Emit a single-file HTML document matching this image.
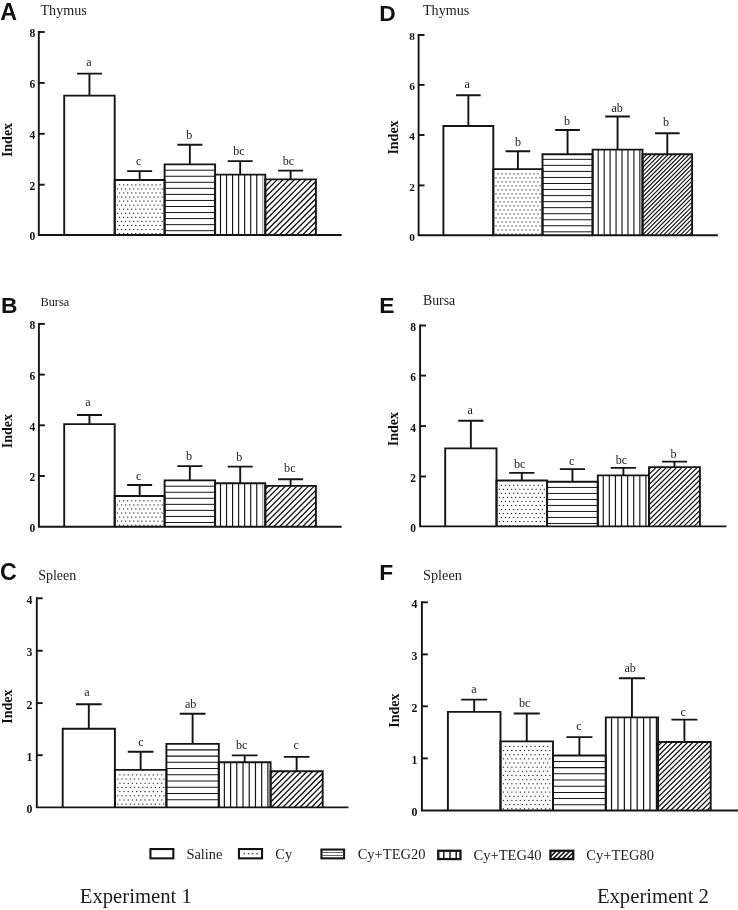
<!DOCTYPE html>
<html><head><meta charset="utf-8"><title>Figure</title>
<style>html,body{margin:0;padding:0;background:#fff}body{width:738px;height:910px;overflow:hidden;font-family:"Liberation Serif",serif}svg{display:block;font-family:"Liberation Serif",serif;filter:grayscale(1)}</style></head>
<body>
<svg width="738" height="910" viewBox="0 0 738 910">
<rect width="738" height="910" fill="#fff"/>
<defs><clipPath id="c0_4"><rect x="265.3" y="179.4" width="50.6" height="55.6"/></clipPath><clipPath id="c1_4"><rect x="265.3" y="485.9" width="50.6" height="40.8"/></clipPath><clipPath id="c2_4"><rect x="270.6" y="771.3" width="52.1" height="36.1"/></clipPath><clipPath id="c3_4"><rect x="642.5" y="154.3" width="49.6" height="81"/></clipPath><clipPath id="c4_4"><rect x="649" y="467.1" width="50.9" height="59.3"/></clipPath><clipPath id="c5_4"><rect x="658.1" y="742" width="52.6" height="68.5"/></clipPath></defs>
<g><text x="0.2" y="20.2" font-family="Liberation Sans, sans-serif" font-weight="700" font-size="23.2" fill="#111">A</text><text x="40.5" y="14.6" font-size="14.1" fill="#1c1c1c">Thymus</text><text transform="translate(12 140) rotate(-90)" text-anchor="middle" font-weight="700" font-size="14" fill="#111">Index</text><rect x="64.2" y="95.6" width="50.5" height="139.4" fill="#fff"/><rect x="114.7" y="180" width="49.9" height="55" fill="#fff"/><g fill="#262626"><rect x="118.92" y="184.3" width="1.25" height="1.1"/><rect x="122.98" y="184.3" width="1.25" height="1.1"/><rect x="127.05" y="184.3" width="1.25" height="1.1"/><rect x="131.1" y="184.3" width="1.25" height="1.1"/><rect x="135.16" y="184.3" width="1.25" height="1.1"/><rect x="139.22" y="184.3" width="1.25" height="1.1"/><rect x="143.28" y="184.3" width="1.25" height="1.1"/><rect x="147.34" y="184.3" width="1.25" height="1.1"/><rect x="151.41" y="184.3" width="1.25" height="1.1"/><rect x="155.47" y="184.3" width="1.25" height="1.1"/><rect x="159.53" y="184.3" width="1.25" height="1.1"/><rect x="116.88" y="188.36" width="1.25" height="1.1"/><rect x="120.94" y="188.36" width="1.25" height="1.1"/><rect x="125" y="188.36" width="1.25" height="1.1"/><rect x="129.06" y="188.36" width="1.25" height="1.1"/><rect x="133.12" y="188.36" width="1.25" height="1.1"/><rect x="137.18" y="188.36" width="1.25" height="1.1"/><rect x="141.24" y="188.36" width="1.25" height="1.1"/><rect x="145.3" y="188.36" width="1.25" height="1.1"/><rect x="149.36" y="188.36" width="1.25" height="1.1"/><rect x="153.42" y="188.36" width="1.25" height="1.1"/><rect x="157.48" y="188.36" width="1.25" height="1.1"/><rect x="161.54" y="188.36" width="1.25" height="1.1"/><rect x="118.92" y="192.42" width="1.25" height="1.1"/><rect x="122.98" y="192.42" width="1.25" height="1.1"/><rect x="127.05" y="192.42" width="1.25" height="1.1"/><rect x="131.1" y="192.42" width="1.25" height="1.1"/><rect x="135.16" y="192.42" width="1.25" height="1.1"/><rect x="139.22" y="192.42" width="1.25" height="1.1"/><rect x="143.28" y="192.42" width="1.25" height="1.1"/><rect x="147.34" y="192.42" width="1.25" height="1.1"/><rect x="151.41" y="192.42" width="1.25" height="1.1"/><rect x="155.47" y="192.42" width="1.25" height="1.1"/><rect x="159.53" y="192.42" width="1.25" height="1.1"/><rect x="116.88" y="196.48" width="1.25" height="1.1"/><rect x="120.94" y="196.48" width="1.25" height="1.1"/><rect x="125" y="196.48" width="1.25" height="1.1"/><rect x="129.06" y="196.48" width="1.25" height="1.1"/><rect x="133.12" y="196.48" width="1.25" height="1.1"/><rect x="137.18" y="196.48" width="1.25" height="1.1"/><rect x="141.24" y="196.48" width="1.25" height="1.1"/><rect x="145.3" y="196.48" width="1.25" height="1.1"/><rect x="149.36" y="196.48" width="1.25" height="1.1"/><rect x="153.42" y="196.48" width="1.25" height="1.1"/><rect x="157.48" y="196.48" width="1.25" height="1.1"/><rect x="161.54" y="196.48" width="1.25" height="1.1"/><rect x="118.92" y="200.54" width="1.25" height="1.1"/><rect x="122.98" y="200.54" width="1.25" height="1.1"/><rect x="127.05" y="200.54" width="1.25" height="1.1"/><rect x="131.1" y="200.54" width="1.25" height="1.1"/><rect x="135.16" y="200.54" width="1.25" height="1.1"/><rect x="139.22" y="200.54" width="1.25" height="1.1"/><rect x="143.28" y="200.54" width="1.25" height="1.1"/><rect x="147.34" y="200.54" width="1.25" height="1.1"/><rect x="151.41" y="200.54" width="1.25" height="1.1"/><rect x="155.47" y="200.54" width="1.25" height="1.1"/><rect x="159.53" y="200.54" width="1.25" height="1.1"/><rect x="116.88" y="204.6" width="1.25" height="1.1"/><rect x="120.94" y="204.6" width="1.25" height="1.1"/><rect x="125" y="204.6" width="1.25" height="1.1"/><rect x="129.06" y="204.6" width="1.25" height="1.1"/><rect x="133.12" y="204.6" width="1.25" height="1.1"/><rect x="137.18" y="204.6" width="1.25" height="1.1"/><rect x="141.24" y="204.6" width="1.25" height="1.1"/><rect x="145.3" y="204.6" width="1.25" height="1.1"/><rect x="149.36" y="204.6" width="1.25" height="1.1"/><rect x="153.42" y="204.6" width="1.25" height="1.1"/><rect x="157.48" y="204.6" width="1.25" height="1.1"/><rect x="161.54" y="204.6" width="1.25" height="1.1"/><rect x="118.92" y="208.66" width="1.25" height="1.1"/><rect x="122.98" y="208.66" width="1.25" height="1.1"/><rect x="127.05" y="208.66" width="1.25" height="1.1"/><rect x="131.1" y="208.66" width="1.25" height="1.1"/><rect x="135.16" y="208.66" width="1.25" height="1.1"/><rect x="139.22" y="208.66" width="1.25" height="1.1"/><rect x="143.28" y="208.66" width="1.25" height="1.1"/><rect x="147.34" y="208.66" width="1.25" height="1.1"/><rect x="151.41" y="208.66" width="1.25" height="1.1"/><rect x="155.47" y="208.66" width="1.25" height="1.1"/><rect x="159.53" y="208.66" width="1.25" height="1.1"/><rect x="116.88" y="212.72" width="1.25" height="1.1"/><rect x="120.94" y="212.72" width="1.25" height="1.1"/><rect x="125" y="212.72" width="1.25" height="1.1"/><rect x="129.06" y="212.72" width="1.25" height="1.1"/><rect x="133.12" y="212.72" width="1.25" height="1.1"/><rect x="137.18" y="212.72" width="1.25" height="1.1"/><rect x="141.24" y="212.72" width="1.25" height="1.1"/><rect x="145.3" y="212.72" width="1.25" height="1.1"/><rect x="149.36" y="212.72" width="1.25" height="1.1"/><rect x="153.42" y="212.72" width="1.25" height="1.1"/><rect x="157.48" y="212.72" width="1.25" height="1.1"/><rect x="161.54" y="212.72" width="1.25" height="1.1"/><rect x="118.92" y="216.78" width="1.25" height="1.1"/><rect x="122.98" y="216.78" width="1.25" height="1.1"/><rect x="127.05" y="216.78" width="1.25" height="1.1"/><rect x="131.1" y="216.78" width="1.25" height="1.1"/><rect x="135.16" y="216.78" width="1.25" height="1.1"/><rect x="139.22" y="216.78" width="1.25" height="1.1"/><rect x="143.28" y="216.78" width="1.25" height="1.1"/><rect x="147.34" y="216.78" width="1.25" height="1.1"/><rect x="151.41" y="216.78" width="1.25" height="1.1"/><rect x="155.47" y="216.78" width="1.25" height="1.1"/><rect x="159.53" y="216.78" width="1.25" height="1.1"/><rect x="116.88" y="220.84" width="1.25" height="1.1"/><rect x="120.94" y="220.84" width="1.25" height="1.1"/><rect x="125" y="220.84" width="1.25" height="1.1"/><rect x="129.06" y="220.84" width="1.25" height="1.1"/><rect x="133.12" y="220.84" width="1.25" height="1.1"/><rect x="137.18" y="220.84" width="1.25" height="1.1"/><rect x="141.24" y="220.84" width="1.25" height="1.1"/><rect x="145.3" y="220.84" width="1.25" height="1.1"/><rect x="149.36" y="220.84" width="1.25" height="1.1"/><rect x="153.42" y="220.84" width="1.25" height="1.1"/><rect x="157.48" y="220.84" width="1.25" height="1.1"/><rect x="161.54" y="220.84" width="1.25" height="1.1"/><rect x="118.92" y="224.9" width="1.25" height="1.1"/><rect x="122.98" y="224.9" width="1.25" height="1.1"/><rect x="127.05" y="224.9" width="1.25" height="1.1"/><rect x="131.1" y="224.9" width="1.25" height="1.1"/><rect x="135.16" y="224.9" width="1.25" height="1.1"/><rect x="139.22" y="224.9" width="1.25" height="1.1"/><rect x="143.28" y="224.9" width="1.25" height="1.1"/><rect x="147.34" y="224.9" width="1.25" height="1.1"/><rect x="151.41" y="224.9" width="1.25" height="1.1"/><rect x="155.47" y="224.9" width="1.25" height="1.1"/><rect x="159.53" y="224.9" width="1.25" height="1.1"/><rect x="116.88" y="228.96" width="1.25" height="1.1"/><rect x="120.94" y="228.96" width="1.25" height="1.1"/><rect x="125" y="228.96" width="1.25" height="1.1"/><rect x="129.06" y="228.96" width="1.25" height="1.1"/><rect x="133.12" y="228.96" width="1.25" height="1.1"/><rect x="137.18" y="228.96" width="1.25" height="1.1"/><rect x="141.24" y="228.96" width="1.25" height="1.1"/><rect x="145.3" y="228.96" width="1.25" height="1.1"/><rect x="149.36" y="228.96" width="1.25" height="1.1"/><rect x="153.42" y="228.96" width="1.25" height="1.1"/><rect x="157.48" y="228.96" width="1.25" height="1.1"/><rect x="161.54" y="228.96" width="1.25" height="1.1"/><rect x="118.92" y="233.02" width="1.25" height="1.1"/><rect x="122.98" y="233.02" width="1.25" height="1.1"/><rect x="127.05" y="233.02" width="1.25" height="1.1"/><rect x="131.1" y="233.02" width="1.25" height="1.1"/><rect x="135.16" y="233.02" width="1.25" height="1.1"/><rect x="139.22" y="233.02" width="1.25" height="1.1"/><rect x="143.28" y="233.02" width="1.25" height="1.1"/><rect x="147.34" y="233.02" width="1.25" height="1.1"/><rect x="151.41" y="233.02" width="1.25" height="1.1"/><rect x="155.47" y="233.02" width="1.25" height="1.1"/><rect x="159.53" y="233.02" width="1.25" height="1.1"/></g><rect x="164.6" y="164.4" width="50.5" height="70.6" fill="#fff"/><path d="M164.6 170.2H215.1M164.6 176.25H215.1M164.6 182.3H215.1M164.6 188.35H215.1M164.6 194.4H215.1M164.6 200.45H215.1M164.6 206.5H215.1M164.6 212.55H215.1M164.6 218.6H215.1M164.6 224.65H215.1M164.6 230.7H215.1" stroke="#141414" stroke-width="1" fill="none"/><rect x="215.1" y="174.6" width="50.2" height="60.4" fill="#fff"/><path d="M220.5 174.6V235M226.54 174.6V235M232.58 174.6V235M238.62 174.6V235M244.66 174.6V235M250.7 174.6V235M256.74 174.6V235" stroke="#141414" stroke-width="1.15" fill="none"/><path d="M262.78 174.6V235" stroke="#777" stroke-width="0.85" fill="none"/><rect x="265.3" y="179.4" width="50.6" height="55.6" fill="#fff"/><g clip-path="url(#c0_4)"><path d="M204.7 235L260.3 179.4M210.45 235L266.05 179.4M216.2 235L271.8 179.4M221.95 235L277.55 179.4M227.7 235L283.3 179.4M233.45 235L289.05 179.4M239.2 235L294.8 179.4M244.95 235L300.55 179.4M250.7 235L306.3 179.4M256.45 235L312.05 179.4M262.2 235L317.8 179.4M267.95 235L323.55 179.4M273.7 235L329.3 179.4M279.45 235L335.05 179.4M285.2 235L340.8 179.4M290.95 235L346.55 179.4M296.7 235L352.3 179.4M302.45 235L358.05 179.4M308.2 235L363.8 179.4M313.95 235L369.55 179.4" stroke="#141414" stroke-width="1.32" fill="none"/></g><path d="M64.2 235V95.6H114.7V235" fill="none" stroke="#141414" stroke-width="1.9" stroke-linejoin="miter"/><path d="M114.7 235V180H164.6V235" fill="none" stroke="#141414" stroke-width="1.9" stroke-linejoin="miter"/><path d="M164.6 235V164.4H215.1V235" fill="none" stroke="#141414" stroke-width="1.9" stroke-linejoin="miter"/><path d="M215.1 235V174.6H265.3V235" fill="none" stroke="#141414" stroke-width="1.9" stroke-linejoin="miter"/><path d="M265.3 235V179.4H315.9V235" fill="none" stroke="#141414" stroke-width="1.9" stroke-linejoin="miter"/><path d="M89.45 95.6V73.6M76.95 73.6H101.95" fill="none" stroke="#141414" stroke-width="1.9"/><path d="M139.65 180V171.1M127.15 171.1H152.15" fill="none" stroke="#141414" stroke-width="1.9"/><path d="M189.85 164.4V144.8M177.35 144.8H202.35" fill="none" stroke="#141414" stroke-width="1.9"/><path d="M240.2 174.6V161.1M227.7 161.1H252.7" fill="none" stroke="#141414" stroke-width="1.9"/><path d="M290.6 179.4V170.6M278.1 170.6H303.1" fill="none" stroke="#141414" stroke-width="1.9"/><text x="89" y="65.9" text-anchor="middle" font-size="12.1" fill="#1c1c1c">a</text><text x="138.8" y="164.9" text-anchor="middle" font-size="12.1" fill="#1c1c1c">c</text><text x="189.3" y="139.3" text-anchor="middle" font-size="12.1" fill="#1c1c1c">b</text><text x="239" y="155.3" text-anchor="middle" font-size="12.1" fill="#1c1c1c">bc</text><text x="288.5" y="165.4" text-anchor="middle" font-size="12.1" fill="#1c1c1c">bc</text><path d="M38.8 31.05V235H341.7" fill="none" stroke="#141414" stroke-width="1.9" stroke-linecap="butt" stroke-linejoin="miter"/><path d="M38.8 32H44.7" stroke="#141414" stroke-width="1.9"/><text x="35.2" y="37.4" text-anchor="end" font-weight="700" font-size="11.5" fill="#111">8</text><path d="M38.8 82.9H44.7" stroke="#141414" stroke-width="1.9"/><text x="35.2" y="88.3" text-anchor="end" font-weight="700" font-size="11.5" fill="#111">6</text><path d="M38.8 133.8H44.7" stroke="#141414" stroke-width="1.9"/><text x="35.2" y="139.2" text-anchor="end" font-weight="700" font-size="11.5" fill="#111">4</text><path d="M38.8 184.7H44.7" stroke="#141414" stroke-width="1.9"/><text x="35.2" y="190.1" text-anchor="end" font-weight="700" font-size="11.5" fill="#111">2</text><text x="35.2" y="240.4" text-anchor="end" font-weight="700" font-size="11.5" fill="#111">0</text></g>
<g><text x="0.9" y="312.5" font-family="Liberation Sans, sans-serif" font-weight="700" font-size="22.8" fill="#111">B</text><text x="40.4" y="305.8" font-size="13.4" fill="#1c1c1c" textLength="28.9" lengthAdjust="spacingAndGlyphs">Bursa</text><text transform="translate(11.8 431.2) rotate(-90)" text-anchor="middle" font-weight="700" font-size="14" fill="#111">Index</text><rect x="64.2" y="424.1" width="50.5" height="102.6" fill="#fff"/><rect x="114.7" y="496" width="49.9" height="30.7" fill="#fff"/><g fill="#262626"><rect x="118.92" y="500.3" width="1.25" height="1.1"/><rect x="122.98" y="500.3" width="1.25" height="1.1"/><rect x="127.05" y="500.3" width="1.25" height="1.1"/><rect x="131.1" y="500.3" width="1.25" height="1.1"/><rect x="135.16" y="500.3" width="1.25" height="1.1"/><rect x="139.22" y="500.3" width="1.25" height="1.1"/><rect x="143.28" y="500.3" width="1.25" height="1.1"/><rect x="147.34" y="500.3" width="1.25" height="1.1"/><rect x="151.41" y="500.3" width="1.25" height="1.1"/><rect x="155.47" y="500.3" width="1.25" height="1.1"/><rect x="159.53" y="500.3" width="1.25" height="1.1"/><rect x="116.88" y="504.36" width="1.25" height="1.1"/><rect x="120.94" y="504.36" width="1.25" height="1.1"/><rect x="125" y="504.36" width="1.25" height="1.1"/><rect x="129.06" y="504.36" width="1.25" height="1.1"/><rect x="133.12" y="504.36" width="1.25" height="1.1"/><rect x="137.18" y="504.36" width="1.25" height="1.1"/><rect x="141.24" y="504.36" width="1.25" height="1.1"/><rect x="145.3" y="504.36" width="1.25" height="1.1"/><rect x="149.36" y="504.36" width="1.25" height="1.1"/><rect x="153.42" y="504.36" width="1.25" height="1.1"/><rect x="157.48" y="504.36" width="1.25" height="1.1"/><rect x="161.54" y="504.36" width="1.25" height="1.1"/><rect x="118.92" y="508.42" width="1.25" height="1.1"/><rect x="122.98" y="508.42" width="1.25" height="1.1"/><rect x="127.05" y="508.42" width="1.25" height="1.1"/><rect x="131.1" y="508.42" width="1.25" height="1.1"/><rect x="135.16" y="508.42" width="1.25" height="1.1"/><rect x="139.22" y="508.42" width="1.25" height="1.1"/><rect x="143.28" y="508.42" width="1.25" height="1.1"/><rect x="147.34" y="508.42" width="1.25" height="1.1"/><rect x="151.41" y="508.42" width="1.25" height="1.1"/><rect x="155.47" y="508.42" width="1.25" height="1.1"/><rect x="159.53" y="508.42" width="1.25" height="1.1"/><rect x="116.88" y="512.48" width="1.25" height="1.1"/><rect x="120.94" y="512.48" width="1.25" height="1.1"/><rect x="125" y="512.48" width="1.25" height="1.1"/><rect x="129.06" y="512.48" width="1.25" height="1.1"/><rect x="133.12" y="512.48" width="1.25" height="1.1"/><rect x="137.18" y="512.48" width="1.25" height="1.1"/><rect x="141.24" y="512.48" width="1.25" height="1.1"/><rect x="145.3" y="512.48" width="1.25" height="1.1"/><rect x="149.36" y="512.48" width="1.25" height="1.1"/><rect x="153.42" y="512.48" width="1.25" height="1.1"/><rect x="157.48" y="512.48" width="1.25" height="1.1"/><rect x="161.54" y="512.48" width="1.25" height="1.1"/><rect x="118.92" y="516.54" width="1.25" height="1.1"/><rect x="122.98" y="516.54" width="1.25" height="1.1"/><rect x="127.05" y="516.54" width="1.25" height="1.1"/><rect x="131.1" y="516.54" width="1.25" height="1.1"/><rect x="135.16" y="516.54" width="1.25" height="1.1"/><rect x="139.22" y="516.54" width="1.25" height="1.1"/><rect x="143.28" y="516.54" width="1.25" height="1.1"/><rect x="147.34" y="516.54" width="1.25" height="1.1"/><rect x="151.41" y="516.54" width="1.25" height="1.1"/><rect x="155.47" y="516.54" width="1.25" height="1.1"/><rect x="159.53" y="516.54" width="1.25" height="1.1"/><rect x="116.88" y="520.6" width="1.25" height="1.1"/><rect x="120.94" y="520.6" width="1.25" height="1.1"/><rect x="125" y="520.6" width="1.25" height="1.1"/><rect x="129.06" y="520.6" width="1.25" height="1.1"/><rect x="133.12" y="520.6" width="1.25" height="1.1"/><rect x="137.18" y="520.6" width="1.25" height="1.1"/><rect x="141.24" y="520.6" width="1.25" height="1.1"/><rect x="145.3" y="520.6" width="1.25" height="1.1"/><rect x="149.36" y="520.6" width="1.25" height="1.1"/><rect x="153.42" y="520.6" width="1.25" height="1.1"/><rect x="157.48" y="520.6" width="1.25" height="1.1"/><rect x="161.54" y="520.6" width="1.25" height="1.1"/><rect x="118.92" y="524.66" width="1.25" height="1.1"/><rect x="122.98" y="524.66" width="1.25" height="1.1"/><rect x="127.05" y="524.66" width="1.25" height="1.1"/><rect x="131.1" y="524.66" width="1.25" height="1.1"/><rect x="135.16" y="524.66" width="1.25" height="1.1"/><rect x="139.22" y="524.66" width="1.25" height="1.1"/><rect x="143.28" y="524.66" width="1.25" height="1.1"/><rect x="147.34" y="524.66" width="1.25" height="1.1"/><rect x="151.41" y="524.66" width="1.25" height="1.1"/><rect x="155.47" y="524.66" width="1.25" height="1.1"/><rect x="159.53" y="524.66" width="1.25" height="1.1"/></g><rect x="164.6" y="480.4" width="50.5" height="46.3" fill="#fff"/><path d="M164.6 486.2H215.1M164.6 492.25H215.1M164.6 498.3H215.1M164.6 504.35H215.1M164.6 510.4H215.1M164.6 516.45H215.1M164.6 522.5H215.1" stroke="#141414" stroke-width="1" fill="none"/><rect x="215.1" y="483.2" width="50.2" height="43.5" fill="#fff"/><path d="M220.5 483.2V526.7M226.54 483.2V526.7M232.58 483.2V526.7M238.62 483.2V526.7M244.66 483.2V526.7M250.7 483.2V526.7M256.74 483.2V526.7" stroke="#141414" stroke-width="1.15" fill="none"/><path d="M262.78 483.2V526.7" stroke="#777" stroke-width="0.85" fill="none"/><rect x="265.3" y="485.9" width="50.6" height="40.8" fill="#fff"/><g clip-path="url(#c1_4)"><path d="M216.2 526.7L257 485.9M221.95 526.7L262.75 485.9M227.7 526.7L268.5 485.9M233.45 526.7L274.25 485.9M239.2 526.7L280 485.9M244.95 526.7L285.75 485.9M250.7 526.7L291.5 485.9M256.45 526.7L297.25 485.9M262.2 526.7L303 485.9M267.95 526.7L308.75 485.9M273.7 526.7L314.5 485.9M279.45 526.7L320.25 485.9M285.2 526.7L326 485.9M290.95 526.7L331.75 485.9M296.7 526.7L337.5 485.9M302.45 526.7L343.25 485.9M308.2 526.7L349 485.9M313.95 526.7L354.75 485.9" stroke="#141414" stroke-width="1.32" fill="none"/></g><path d="M64.2 526.7V424.1H114.7V526.7" fill="none" stroke="#141414" stroke-width="1.9" stroke-linejoin="miter"/><path d="M114.7 526.7V496H164.6V526.7" fill="none" stroke="#141414" stroke-width="1.9" stroke-linejoin="miter"/><path d="M164.6 526.7V480.4H215.1V526.7" fill="none" stroke="#141414" stroke-width="1.9" stroke-linejoin="miter"/><path d="M215.1 526.7V483.2H265.3V526.7" fill="none" stroke="#141414" stroke-width="1.9" stroke-linejoin="miter"/><path d="M265.3 526.7V485.9H315.9V526.7" fill="none" stroke="#141414" stroke-width="1.9" stroke-linejoin="miter"/><path d="M89.45 424.1V415M76.95 415H101.95" fill="none" stroke="#141414" stroke-width="1.9"/><path d="M139.65 496V485M127.15 485H152.15" fill="none" stroke="#141414" stroke-width="1.9"/><path d="M189.85 480.4V466.1M177.35 466.1H202.35" fill="none" stroke="#141414" stroke-width="1.9"/><path d="M240.2 483.2V466.6M227.7 466.6H252.7" fill="none" stroke="#141414" stroke-width="1.9"/><path d="M290.6 485.9V479.2M278.1 479.2H303.1" fill="none" stroke="#141414" stroke-width="1.9"/><text x="88" y="406" text-anchor="middle" font-size="12.1" fill="#1c1c1c">a</text><text x="138.6" y="480" text-anchor="middle" font-size="12.1" fill="#1c1c1c">c</text><text x="189" y="459.9" text-anchor="middle" font-size="12.1" fill="#1c1c1c">b</text><text x="239.2" y="460.9" text-anchor="middle" font-size="12.1" fill="#1c1c1c">b</text><text x="289.8" y="471.7" text-anchor="middle" font-size="12.1" fill="#1c1c1c">bc</text><path d="M38.9 322.95V526.7H341.7" fill="none" stroke="#141414" stroke-width="1.9" stroke-linecap="butt" stroke-linejoin="miter"/><path d="M38.9 323.9H44.8" stroke="#141414" stroke-width="1.9"/><text x="35.3" y="329.3" text-anchor="end" font-weight="700" font-size="11.5" fill="#111">8</text><path d="M38.9 374.6H44.8" stroke="#141414" stroke-width="1.9"/><text x="35.3" y="380" text-anchor="end" font-weight="700" font-size="11.5" fill="#111">6</text><path d="M38.9 425.3H44.8" stroke="#141414" stroke-width="1.9"/><text x="35.3" y="430.7" text-anchor="end" font-weight="700" font-size="11.5" fill="#111">4</text><path d="M38.9 476H44.8" stroke="#141414" stroke-width="1.9"/><text x="35.3" y="481.4" text-anchor="end" font-weight="700" font-size="11.5" fill="#111">2</text><text x="35.3" y="532.1" text-anchor="end" font-weight="700" font-size="11.5" fill="#111">0</text></g>
<g><text x="0" y="580.3" font-family="Liberation Sans, sans-serif" font-weight="700" font-size="23.2" fill="#111">C</text><text x="38.2" y="579.5" font-size="14" fill="#1c1c1c">Spleen</text><text transform="translate(12.3 706.6) rotate(-90)" text-anchor="middle" font-weight="700" font-size="14" fill="#111">Index</text><rect x="62.7" y="728.7" width="52.2" height="78.7" fill="#fff"/><rect x="114.9" y="769.9" width="51.5" height="37.5" fill="#fff"/><g fill="#262626"><rect x="119.27" y="774.35" width="1.25" height="1.1"/><rect x="123.45" y="774.35" width="1.25" height="1.1"/><rect x="127.63" y="774.35" width="1.25" height="1.1"/><rect x="131.82" y="774.35" width="1.25" height="1.1"/><rect x="136" y="774.35" width="1.25" height="1.1"/><rect x="140.18" y="774.35" width="1.25" height="1.1"/><rect x="144.36" y="774.35" width="1.25" height="1.1"/><rect x="148.54" y="774.35" width="1.25" height="1.1"/><rect x="152.72" y="774.35" width="1.25" height="1.1"/><rect x="156.91" y="774.35" width="1.25" height="1.1"/><rect x="161.09" y="774.35" width="1.25" height="1.1"/><rect x="117.16" y="778.53" width="1.25" height="1.1"/><rect x="121.34" y="778.53" width="1.25" height="1.1"/><rect x="125.52" y="778.53" width="1.25" height="1.1"/><rect x="129.7" y="778.53" width="1.25" height="1.1"/><rect x="133.89" y="778.53" width="1.25" height="1.1"/><rect x="138.07" y="778.53" width="1.25" height="1.1"/><rect x="142.25" y="778.53" width="1.25" height="1.1"/><rect x="146.43" y="778.53" width="1.25" height="1.1"/><rect x="150.61" y="778.53" width="1.25" height="1.1"/><rect x="154.8" y="778.53" width="1.25" height="1.1"/><rect x="158.98" y="778.53" width="1.25" height="1.1"/><rect x="163.16" y="778.53" width="1.25" height="1.1"/><rect x="119.27" y="782.71" width="1.25" height="1.1"/><rect x="123.45" y="782.71" width="1.25" height="1.1"/><rect x="127.63" y="782.71" width="1.25" height="1.1"/><rect x="131.82" y="782.71" width="1.25" height="1.1"/><rect x="136" y="782.71" width="1.25" height="1.1"/><rect x="140.18" y="782.71" width="1.25" height="1.1"/><rect x="144.36" y="782.71" width="1.25" height="1.1"/><rect x="148.54" y="782.71" width="1.25" height="1.1"/><rect x="152.72" y="782.71" width="1.25" height="1.1"/><rect x="156.91" y="782.71" width="1.25" height="1.1"/><rect x="161.09" y="782.71" width="1.25" height="1.1"/><rect x="117.16" y="786.89" width="1.25" height="1.1"/><rect x="121.34" y="786.89" width="1.25" height="1.1"/><rect x="125.52" y="786.89" width="1.25" height="1.1"/><rect x="129.7" y="786.89" width="1.25" height="1.1"/><rect x="133.89" y="786.89" width="1.25" height="1.1"/><rect x="138.07" y="786.89" width="1.25" height="1.1"/><rect x="142.25" y="786.89" width="1.25" height="1.1"/><rect x="146.43" y="786.89" width="1.25" height="1.1"/><rect x="150.61" y="786.89" width="1.25" height="1.1"/><rect x="154.8" y="786.89" width="1.25" height="1.1"/><rect x="158.98" y="786.89" width="1.25" height="1.1"/><rect x="163.16" y="786.89" width="1.25" height="1.1"/><rect x="119.27" y="791.07" width="1.25" height="1.1"/><rect x="123.45" y="791.07" width="1.25" height="1.1"/><rect x="127.63" y="791.07" width="1.25" height="1.1"/><rect x="131.82" y="791.07" width="1.25" height="1.1"/><rect x="136" y="791.07" width="1.25" height="1.1"/><rect x="140.18" y="791.07" width="1.25" height="1.1"/><rect x="144.36" y="791.07" width="1.25" height="1.1"/><rect x="148.54" y="791.07" width="1.25" height="1.1"/><rect x="152.72" y="791.07" width="1.25" height="1.1"/><rect x="156.91" y="791.07" width="1.25" height="1.1"/><rect x="161.09" y="791.07" width="1.25" height="1.1"/><rect x="117.16" y="795.25" width="1.25" height="1.1"/><rect x="121.34" y="795.25" width="1.25" height="1.1"/><rect x="125.52" y="795.25" width="1.25" height="1.1"/><rect x="129.7" y="795.25" width="1.25" height="1.1"/><rect x="133.89" y="795.25" width="1.25" height="1.1"/><rect x="138.07" y="795.25" width="1.25" height="1.1"/><rect x="142.25" y="795.25" width="1.25" height="1.1"/><rect x="146.43" y="795.25" width="1.25" height="1.1"/><rect x="150.61" y="795.25" width="1.25" height="1.1"/><rect x="154.8" y="795.25" width="1.25" height="1.1"/><rect x="158.98" y="795.25" width="1.25" height="1.1"/><rect x="163.16" y="795.25" width="1.25" height="1.1"/><rect x="119.27" y="799.44" width="1.25" height="1.1"/><rect x="123.45" y="799.44" width="1.25" height="1.1"/><rect x="127.63" y="799.44" width="1.25" height="1.1"/><rect x="131.82" y="799.44" width="1.25" height="1.1"/><rect x="136" y="799.44" width="1.25" height="1.1"/><rect x="140.18" y="799.44" width="1.25" height="1.1"/><rect x="144.36" y="799.44" width="1.25" height="1.1"/><rect x="148.54" y="799.44" width="1.25" height="1.1"/><rect x="152.72" y="799.44" width="1.25" height="1.1"/><rect x="156.91" y="799.44" width="1.25" height="1.1"/><rect x="161.09" y="799.44" width="1.25" height="1.1"/><rect x="117.16" y="803.62" width="1.25" height="1.1"/><rect x="121.34" y="803.62" width="1.25" height="1.1"/><rect x="125.52" y="803.62" width="1.25" height="1.1"/><rect x="129.7" y="803.62" width="1.25" height="1.1"/><rect x="133.89" y="803.62" width="1.25" height="1.1"/><rect x="138.07" y="803.62" width="1.25" height="1.1"/><rect x="142.25" y="803.62" width="1.25" height="1.1"/><rect x="146.43" y="803.62" width="1.25" height="1.1"/><rect x="150.61" y="803.62" width="1.25" height="1.1"/><rect x="154.8" y="803.62" width="1.25" height="1.1"/><rect x="158.98" y="803.62" width="1.25" height="1.1"/><rect x="163.16" y="803.62" width="1.25" height="1.1"/></g><rect x="166.4" y="743.9" width="52.4" height="63.5" fill="#fff"/><path d="M166.4 749.87H218.8M166.4 756.11H218.8M166.4 762.34H218.8M166.4 768.57H218.8M166.4 774.8H218.8M166.4 781.03H218.8M166.4 787.26H218.8M166.4 793.49H218.8M166.4 799.73H218.8" stroke="#141414" stroke-width="1.03" fill="none"/><rect x="218.8" y="762.2" width="51.8" height="45.2" fill="#fff"/><path d="M224.36 762.2V807.4M230.58 762.2V807.4M236.8 762.2V807.4M243.03 762.2V807.4M249.25 762.2V807.4M255.47 762.2V807.4M261.69 762.2V807.4M267.91 762.2V807.4" stroke="#141414" stroke-width="1.18" fill="none"/><rect x="270.6" y="771.3" width="52.1" height="36.1" fill="#fff"/><g clip-path="url(#c2_4)"><path d="M225.3 807.4L261.4 771.3M231.03 807.4L267.13 771.3M236.75 807.4L272.85 771.3M242.48 807.4L278.58 771.3M248.21 807.4L284.31 771.3M253.93 807.4L290.03 771.3M259.66 807.4L295.76 771.3M265.39 807.4L301.49 771.3M271.12 807.4L307.22 771.3M276.84 807.4L312.94 771.3M282.57 807.4L318.67 771.3M288.3 807.4L324.4 771.3M294.02 807.4L330.12 771.3M299.75 807.4L335.85 771.3M305.48 807.4L341.58 771.3M311.2 807.4L347.3 771.3M316.93 807.4L353.03 771.3M322.66 807.4L358.76 771.3" stroke="#141414" stroke-width="1.36" fill="none"/></g><path d="M62.7 807.4V728.7H114.9V807.4" fill="none" stroke="#141414" stroke-width="1.9" stroke-linejoin="miter"/><path d="M114.9 807.4V769.9H166.4V807.4" fill="none" stroke="#141414" stroke-width="1.9" stroke-linejoin="miter"/><path d="M166.4 807.4V743.9H218.8V807.4" fill="none" stroke="#141414" stroke-width="1.9" stroke-linejoin="miter"/><path d="M218.8 807.4V762.2H270.6V807.4" fill="none" stroke="#141414" stroke-width="1.9" stroke-linejoin="miter"/><path d="M270.6 807.4V771.3H322.7V807.4" fill="none" stroke="#141414" stroke-width="1.9" stroke-linejoin="miter"/><path d="M88.8 728.7V704.3M75.93 704.3H101.68" fill="none" stroke="#141414" stroke-width="1.9"/><path d="M140.65 769.9V751.7M127.78 751.7H153.53" fill="none" stroke="#141414" stroke-width="1.9"/><path d="M192.6 743.9V713.8M179.73 713.8H205.48" fill="none" stroke="#141414" stroke-width="1.9"/><path d="M244.7 762.2V755.4M231.83 755.4H257.58" fill="none" stroke="#141414" stroke-width="1.9"/><path d="M296.65 771.3V756.9M283.77 756.9H309.52" fill="none" stroke="#141414" stroke-width="1.9"/><text x="87" y="696" text-anchor="middle" font-size="12.1" fill="#1c1c1c">a</text><text x="140.9" y="746.2" text-anchor="middle" font-size="12.1" fill="#1c1c1c">c</text><text x="190.6" y="708.3" text-anchor="middle" font-size="12.1" fill="#1c1c1c">ab</text><text x="241.7" y="749.1" text-anchor="middle" font-size="12.1" fill="#1c1c1c">bc</text><text x="296.3" y="749.1" text-anchor="middle" font-size="12.1" fill="#1c1c1c">c</text><path d="M36.8 597.35V807.4H348.5" fill="none" stroke="#141414" stroke-width="1.9" stroke-linecap="butt" stroke-linejoin="miter"/><path d="M36.8 598.3H42.7" stroke="#141414" stroke-width="1.9"/><text x="32.5" y="603.7" text-anchor="end" font-weight="700" font-size="11.85" fill="#111">4</text><path d="M36.8 650.7H42.7" stroke="#141414" stroke-width="1.9"/><text x="32.5" y="656.1" text-anchor="end" font-weight="700" font-size="11.85" fill="#111">3</text><path d="M36.8 703.1H42.7" stroke="#141414" stroke-width="1.9"/><text x="32.5" y="708.5" text-anchor="end" font-weight="700" font-size="11.85" fill="#111">2</text><path d="M36.8 755.2H42.7" stroke="#141414" stroke-width="1.9"/><text x="32.5" y="760.6" text-anchor="end" font-weight="700" font-size="11.85" fill="#111">1</text><text x="32.5" y="812.8" text-anchor="end" font-weight="700" font-size="11.85" fill="#111">0</text></g>
<g><text x="379.2" y="20.6" font-family="Liberation Sans, sans-serif" font-weight="700" font-size="22.8" fill="#111">D</text><text x="423" y="14.7" font-size="14.1" fill="#1c1c1c">Thymus</text><text transform="translate(397.8 137.5) rotate(-90)" text-anchor="middle" font-weight="700" font-size="14" fill="#111">Index</text><rect x="443.4" y="126" width="49.9" height="109.3" fill="#fff"/><rect x="493.3" y="169.1" width="49.2" height="66.2" fill="#fff"/><g fill="#262626"><rect x="497.45" y="173.34" width="1.25" height="1.1"/><rect x="501.45" y="173.34" width="1.25" height="1.1"/><rect x="505.45" y="173.34" width="1.25" height="1.1"/><rect x="509.45" y="173.34" width="1.25" height="1.1"/><rect x="513.45" y="173.34" width="1.25" height="1.1"/><rect x="517.45" y="173.34" width="1.25" height="1.1"/><rect x="521.45" y="173.34" width="1.25" height="1.1"/><rect x="525.45" y="173.34" width="1.25" height="1.1"/><rect x="529.45" y="173.34" width="1.25" height="1.1"/><rect x="533.44" y="173.34" width="1.25" height="1.1"/><rect x="537.44" y="173.34" width="1.25" height="1.1"/><rect x="495.43" y="177.34" width="1.25" height="1.1"/><rect x="499.43" y="177.34" width="1.25" height="1.1"/><rect x="503.43" y="177.34" width="1.25" height="1.1"/><rect x="507.43" y="177.34" width="1.25" height="1.1"/><rect x="511.43" y="177.34" width="1.25" height="1.1"/><rect x="515.43" y="177.34" width="1.25" height="1.1"/><rect x="519.43" y="177.34" width="1.25" height="1.1"/><rect x="523.43" y="177.34" width="1.25" height="1.1"/><rect x="527.43" y="177.34" width="1.25" height="1.1"/><rect x="531.42" y="177.34" width="1.25" height="1.1"/><rect x="535.42" y="177.34" width="1.25" height="1.1"/><rect x="539.42" y="177.34" width="1.25" height="1.1"/><rect x="497.45" y="181.35" width="1.25" height="1.1"/><rect x="501.45" y="181.35" width="1.25" height="1.1"/><rect x="505.45" y="181.35" width="1.25" height="1.1"/><rect x="509.45" y="181.35" width="1.25" height="1.1"/><rect x="513.45" y="181.35" width="1.25" height="1.1"/><rect x="517.45" y="181.35" width="1.25" height="1.1"/><rect x="521.45" y="181.35" width="1.25" height="1.1"/><rect x="525.45" y="181.35" width="1.25" height="1.1"/><rect x="529.45" y="181.35" width="1.25" height="1.1"/><rect x="533.44" y="181.35" width="1.25" height="1.1"/><rect x="537.44" y="181.35" width="1.25" height="1.1"/><rect x="495.43" y="185.36" width="1.25" height="1.1"/><rect x="499.43" y="185.36" width="1.25" height="1.1"/><rect x="503.43" y="185.36" width="1.25" height="1.1"/><rect x="507.43" y="185.36" width="1.25" height="1.1"/><rect x="511.43" y="185.36" width="1.25" height="1.1"/><rect x="515.43" y="185.36" width="1.25" height="1.1"/><rect x="519.43" y="185.36" width="1.25" height="1.1"/><rect x="523.43" y="185.36" width="1.25" height="1.1"/><rect x="527.43" y="185.36" width="1.25" height="1.1"/><rect x="531.42" y="185.36" width="1.25" height="1.1"/><rect x="535.42" y="185.36" width="1.25" height="1.1"/><rect x="539.42" y="185.36" width="1.25" height="1.1"/><rect x="497.45" y="189.37" width="1.25" height="1.1"/><rect x="501.45" y="189.37" width="1.25" height="1.1"/><rect x="505.45" y="189.37" width="1.25" height="1.1"/><rect x="509.45" y="189.37" width="1.25" height="1.1"/><rect x="513.45" y="189.37" width="1.25" height="1.1"/><rect x="517.45" y="189.37" width="1.25" height="1.1"/><rect x="521.45" y="189.37" width="1.25" height="1.1"/><rect x="525.45" y="189.37" width="1.25" height="1.1"/><rect x="529.45" y="189.37" width="1.25" height="1.1"/><rect x="533.44" y="189.37" width="1.25" height="1.1"/><rect x="537.44" y="189.37" width="1.25" height="1.1"/><rect x="495.43" y="193.37" width="1.25" height="1.1"/><rect x="499.43" y="193.37" width="1.25" height="1.1"/><rect x="503.43" y="193.37" width="1.25" height="1.1"/><rect x="507.43" y="193.37" width="1.25" height="1.1"/><rect x="511.43" y="193.37" width="1.25" height="1.1"/><rect x="515.43" y="193.37" width="1.25" height="1.1"/><rect x="519.43" y="193.37" width="1.25" height="1.1"/><rect x="523.43" y="193.37" width="1.25" height="1.1"/><rect x="527.43" y="193.37" width="1.25" height="1.1"/><rect x="531.42" y="193.37" width="1.25" height="1.1"/><rect x="535.42" y="193.37" width="1.25" height="1.1"/><rect x="539.42" y="193.37" width="1.25" height="1.1"/><rect x="497.45" y="197.38" width="1.25" height="1.1"/><rect x="501.45" y="197.38" width="1.25" height="1.1"/><rect x="505.45" y="197.38" width="1.25" height="1.1"/><rect x="509.45" y="197.38" width="1.25" height="1.1"/><rect x="513.45" y="197.38" width="1.25" height="1.1"/><rect x="517.45" y="197.38" width="1.25" height="1.1"/><rect x="521.45" y="197.38" width="1.25" height="1.1"/><rect x="525.45" y="197.38" width="1.25" height="1.1"/><rect x="529.45" y="197.38" width="1.25" height="1.1"/><rect x="533.44" y="197.38" width="1.25" height="1.1"/><rect x="537.44" y="197.38" width="1.25" height="1.1"/><rect x="495.43" y="201.39" width="1.25" height="1.1"/><rect x="499.43" y="201.39" width="1.25" height="1.1"/><rect x="503.43" y="201.39" width="1.25" height="1.1"/><rect x="507.43" y="201.39" width="1.25" height="1.1"/><rect x="511.43" y="201.39" width="1.25" height="1.1"/><rect x="515.43" y="201.39" width="1.25" height="1.1"/><rect x="519.43" y="201.39" width="1.25" height="1.1"/><rect x="523.43" y="201.39" width="1.25" height="1.1"/><rect x="527.43" y="201.39" width="1.25" height="1.1"/><rect x="531.42" y="201.39" width="1.25" height="1.1"/><rect x="535.42" y="201.39" width="1.25" height="1.1"/><rect x="539.42" y="201.39" width="1.25" height="1.1"/><rect x="497.45" y="205.39" width="1.25" height="1.1"/><rect x="501.45" y="205.39" width="1.25" height="1.1"/><rect x="505.45" y="205.39" width="1.25" height="1.1"/><rect x="509.45" y="205.39" width="1.25" height="1.1"/><rect x="513.45" y="205.39" width="1.25" height="1.1"/><rect x="517.45" y="205.39" width="1.25" height="1.1"/><rect x="521.45" y="205.39" width="1.25" height="1.1"/><rect x="525.45" y="205.39" width="1.25" height="1.1"/><rect x="529.45" y="205.39" width="1.25" height="1.1"/><rect x="533.44" y="205.39" width="1.25" height="1.1"/><rect x="537.44" y="205.39" width="1.25" height="1.1"/><rect x="495.43" y="209.4" width="1.25" height="1.1"/><rect x="499.43" y="209.4" width="1.25" height="1.1"/><rect x="503.43" y="209.4" width="1.25" height="1.1"/><rect x="507.43" y="209.4" width="1.25" height="1.1"/><rect x="511.43" y="209.4" width="1.25" height="1.1"/><rect x="515.43" y="209.4" width="1.25" height="1.1"/><rect x="519.43" y="209.4" width="1.25" height="1.1"/><rect x="523.43" y="209.4" width="1.25" height="1.1"/><rect x="527.43" y="209.4" width="1.25" height="1.1"/><rect x="531.42" y="209.4" width="1.25" height="1.1"/><rect x="535.42" y="209.4" width="1.25" height="1.1"/><rect x="539.42" y="209.4" width="1.25" height="1.1"/><rect x="497.45" y="213.41" width="1.25" height="1.1"/><rect x="501.45" y="213.41" width="1.25" height="1.1"/><rect x="505.45" y="213.41" width="1.25" height="1.1"/><rect x="509.45" y="213.41" width="1.25" height="1.1"/><rect x="513.45" y="213.41" width="1.25" height="1.1"/><rect x="517.45" y="213.41" width="1.25" height="1.1"/><rect x="521.45" y="213.41" width="1.25" height="1.1"/><rect x="525.45" y="213.41" width="1.25" height="1.1"/><rect x="529.45" y="213.41" width="1.25" height="1.1"/><rect x="533.44" y="213.41" width="1.25" height="1.1"/><rect x="537.44" y="213.41" width="1.25" height="1.1"/><rect x="495.43" y="217.42" width="1.25" height="1.1"/><rect x="499.43" y="217.42" width="1.25" height="1.1"/><rect x="503.43" y="217.42" width="1.25" height="1.1"/><rect x="507.43" y="217.42" width="1.25" height="1.1"/><rect x="511.43" y="217.42" width="1.25" height="1.1"/><rect x="515.43" y="217.42" width="1.25" height="1.1"/><rect x="519.43" y="217.42" width="1.25" height="1.1"/><rect x="523.43" y="217.42" width="1.25" height="1.1"/><rect x="527.43" y="217.42" width="1.25" height="1.1"/><rect x="531.42" y="217.42" width="1.25" height="1.1"/><rect x="535.42" y="217.42" width="1.25" height="1.1"/><rect x="539.42" y="217.42" width="1.25" height="1.1"/><rect x="497.45" y="221.42" width="1.25" height="1.1"/><rect x="501.45" y="221.42" width="1.25" height="1.1"/><rect x="505.45" y="221.42" width="1.25" height="1.1"/><rect x="509.45" y="221.42" width="1.25" height="1.1"/><rect x="513.45" y="221.42" width="1.25" height="1.1"/><rect x="517.45" y="221.42" width="1.25" height="1.1"/><rect x="521.45" y="221.42" width="1.25" height="1.1"/><rect x="525.45" y="221.42" width="1.25" height="1.1"/><rect x="529.45" y="221.42" width="1.25" height="1.1"/><rect x="533.44" y="221.42" width="1.25" height="1.1"/><rect x="537.44" y="221.42" width="1.25" height="1.1"/><rect x="495.43" y="225.43" width="1.25" height="1.1"/><rect x="499.43" y="225.43" width="1.25" height="1.1"/><rect x="503.43" y="225.43" width="1.25" height="1.1"/><rect x="507.43" y="225.43" width="1.25" height="1.1"/><rect x="511.43" y="225.43" width="1.25" height="1.1"/><rect x="515.43" y="225.43" width="1.25" height="1.1"/><rect x="519.43" y="225.43" width="1.25" height="1.1"/><rect x="523.43" y="225.43" width="1.25" height="1.1"/><rect x="527.43" y="225.43" width="1.25" height="1.1"/><rect x="531.42" y="225.43" width="1.25" height="1.1"/><rect x="535.42" y="225.43" width="1.25" height="1.1"/><rect x="539.42" y="225.43" width="1.25" height="1.1"/><rect x="497.45" y="229.44" width="1.25" height="1.1"/><rect x="501.45" y="229.44" width="1.25" height="1.1"/><rect x="505.45" y="229.44" width="1.25" height="1.1"/><rect x="509.45" y="229.44" width="1.25" height="1.1"/><rect x="513.45" y="229.44" width="1.25" height="1.1"/><rect x="517.45" y="229.44" width="1.25" height="1.1"/><rect x="521.45" y="229.44" width="1.25" height="1.1"/><rect x="525.45" y="229.44" width="1.25" height="1.1"/><rect x="529.45" y="229.44" width="1.25" height="1.1"/><rect x="533.44" y="229.44" width="1.25" height="1.1"/><rect x="537.44" y="229.44" width="1.25" height="1.1"/><rect x="495.43" y="233.45" width="1.25" height="1.1"/><rect x="499.43" y="233.45" width="1.25" height="1.1"/><rect x="503.43" y="233.45" width="1.25" height="1.1"/><rect x="507.43" y="233.45" width="1.25" height="1.1"/><rect x="511.43" y="233.45" width="1.25" height="1.1"/><rect x="515.43" y="233.45" width="1.25" height="1.1"/><rect x="519.43" y="233.45" width="1.25" height="1.1"/><rect x="523.43" y="233.45" width="1.25" height="1.1"/><rect x="527.43" y="233.45" width="1.25" height="1.1"/><rect x="531.42" y="233.45" width="1.25" height="1.1"/><rect x="535.42" y="233.45" width="1.25" height="1.1"/><rect x="539.42" y="233.45" width="1.25" height="1.1"/></g><rect x="542.5" y="154.3" width="50.1" height="81" fill="#fff"/><path d="M542.5 159.33H592.6M542.5 165.37H592.6M542.5 171.41H592.6M542.5 177.46H592.6M542.5 183.5H592.6M542.5 189.54H592.6M542.5 195.58H592.6M542.5 201.62H592.6M542.5 207.66H592.6M542.5 213.7H592.6M542.5 219.74H592.6M542.5 225.78H592.6M542.5 231.82H592.6" stroke="#141414" stroke-width="0.99" fill="none"/><rect x="592.6" y="149.6" width="49.9" height="85.7" fill="#fff"/><path d="M598.21 149.6V235.3M604.16 149.6V235.3M610.11 149.6V235.3M616.06 149.6V235.3M622.01 149.6V235.3M627.96 149.6V235.3M633.91 149.6V235.3M639.86 149.6V235.3" stroke="#141414" stroke-width="1.13" fill="none"/><rect x="642.5" y="154.3" width="49.6" height="81" fill="#fff"/><g clip-path="url(#c3_4)"><path d="M558.08 235.3L638.91 154.3M562.28 235.3L643.12 154.3M566.49 235.3L647.32 154.3M570.69 235.3L651.53 154.3M574.9 235.3L655.74 154.3M579.11 235.3L659.94 154.3M583.31 235.3L664.15 154.3M587.52 235.3L668.35 154.3M591.72 235.3L672.56 154.3M595.93 235.3L676.77 154.3M600.14 235.3L680.97 154.3M604.34 235.3L685.18 154.3M608.55 235.3L689.38 154.3M612.75 235.3L693.59 154.3M616.96 235.3L697.79 154.3M621.16 235.3L702 154.3M625.37 235.3L706.21 154.3M629.58 235.3L710.41 154.3M633.78 235.3L714.62 154.3M637.99 235.3L718.82 154.3M642.19 235.3L723.03 154.3M646.4 235.3L727.24 154.3M650.61 235.3L731.44 154.3M654.81 235.3L735.65 154.3M659.02 235.3L739.85 154.3M663.22 235.3L744.06 154.3M667.43 235.3L748.27 154.3M671.64 235.3L752.47 154.3M675.84 235.3L756.68 154.3M680.05 235.3L760.88 154.3M684.25 235.3L765.09 154.3M688.46 235.3L769.3 154.3" stroke="#141414" stroke-width="1.18" fill="none"/></g><path d="M443.4 235.3V126H493.3V235.3" fill="none" stroke="#141414" stroke-width="1.9" stroke-linejoin="miter"/><path d="M493.3 235.3V169.1H542.5V235.3" fill="none" stroke="#141414" stroke-width="1.9" stroke-linejoin="miter"/><path d="M542.5 235.3V154.3H592.6V235.3" fill="none" stroke="#141414" stroke-width="1.9" stroke-linejoin="miter"/><path d="M592.6 235.3V149.6H642.5V235.3" fill="none" stroke="#141414" stroke-width="1.9" stroke-linejoin="miter"/><path d="M642.5 235.3V154.3H692.1V235.3" fill="none" stroke="#141414" stroke-width="1.9" stroke-linejoin="miter"/><path d="M468.35 126V95.2M456.04 95.2H480.66" fill="none" stroke="#141414" stroke-width="1.9"/><path d="M517.9 169.1V151.3M505.59 151.3H530.21" fill="none" stroke="#141414" stroke-width="1.9"/><path d="M567.55 154.3V130M555.24 130H579.86" fill="none" stroke="#141414" stroke-width="1.9"/><path d="M617.55 149.6V116.5M605.24 116.5H629.86" fill="none" stroke="#141414" stroke-width="1.9"/><path d="M667.3 154.3V133.3M654.99 133.3H679.61" fill="none" stroke="#141414" stroke-width="1.9"/><text x="467.2" y="87.7" text-anchor="middle" font-size="12.1" fill="#1c1c1c">a</text><text x="517.9" y="145.8" text-anchor="middle" font-size="12.1" fill="#1c1c1c">b</text><text x="567" y="125.3" text-anchor="middle" font-size="12.1" fill="#1c1c1c">b</text><text x="617.2" y="112.2" text-anchor="middle" font-size="12.1" fill="#1c1c1c">ab</text><text x="666" y="126.3" text-anchor="middle" font-size="12.1" fill="#1c1c1c">b</text><path d="M418.6 34.05V235.3H717.9" fill="none" stroke="#141414" stroke-width="1.9" stroke-linecap="butt" stroke-linejoin="miter"/><path d="M418.6 35H424.5" stroke="#141414" stroke-width="1.9"/><text x="415" y="40.4" text-anchor="end" font-weight="700" font-size="11.34" fill="#111">8</text><path d="M418.6 84.9H424.5" stroke="#141414" stroke-width="1.9"/><text x="415" y="90.3" text-anchor="end" font-weight="700" font-size="11.34" fill="#111">6</text><path d="M418.6 135H424.5" stroke="#141414" stroke-width="1.9"/><text x="415" y="140.4" text-anchor="end" font-weight="700" font-size="11.34" fill="#111">4</text><path d="M418.6 185.4H424.5" stroke="#141414" stroke-width="1.9"/><text x="415" y="190.8" text-anchor="end" font-weight="700" font-size="11.34" fill="#111">2</text><text x="415" y="240.7" text-anchor="end" font-weight="700" font-size="11.34" fill="#111">0</text></g>
<g><text x="379.2" y="312.6" font-family="Liberation Sans, sans-serif" font-weight="700" font-size="22.8" fill="#111">E</text><text x="423" y="304.7" font-size="13.8" fill="#1c1c1c">Bursa</text><text transform="translate(397.8 429.1) rotate(-90)" text-anchor="middle" font-weight="700" font-size="14" fill="#111">Index</text><rect x="445.2" y="448.4" width="51.3" height="78" fill="#fff"/><rect x="496.5" y="480.5" width="50.6" height="45.9" fill="#fff"/><g fill="#262626"><rect x="500.77" y="484.76" width="1.25" height="1.1"/><rect x="504.87" y="484.76" width="1.25" height="1.1"/><rect x="508.96" y="484.76" width="1.25" height="1.1"/><rect x="513.06" y="484.76" width="1.25" height="1.1"/><rect x="517.15" y="484.76" width="1.25" height="1.1"/><rect x="521.25" y="484.76" width="1.25" height="1.1"/><rect x="525.35" y="484.76" width="1.25" height="1.1"/><rect x="529.44" y="484.76" width="1.25" height="1.1"/><rect x="533.54" y="484.76" width="1.25" height="1.1"/><rect x="537.64" y="484.76" width="1.25" height="1.1"/><rect x="541.73" y="484.76" width="1.25" height="1.1"/><rect x="498.7" y="488.79" width="1.25" height="1.1"/><rect x="502.8" y="488.79" width="1.25" height="1.1"/><rect x="506.89" y="488.79" width="1.25" height="1.1"/><rect x="510.99" y="488.79" width="1.25" height="1.1"/><rect x="515.09" y="488.79" width="1.25" height="1.1"/><rect x="519.18" y="488.79" width="1.25" height="1.1"/><rect x="523.28" y="488.79" width="1.25" height="1.1"/><rect x="527.38" y="488.79" width="1.25" height="1.1"/><rect x="531.47" y="488.79" width="1.25" height="1.1"/><rect x="535.57" y="488.79" width="1.25" height="1.1"/><rect x="539.67" y="488.79" width="1.25" height="1.1"/><rect x="543.76" y="488.79" width="1.25" height="1.1"/><rect x="500.77" y="492.82" width="1.25" height="1.1"/><rect x="504.87" y="492.82" width="1.25" height="1.1"/><rect x="508.96" y="492.82" width="1.25" height="1.1"/><rect x="513.06" y="492.82" width="1.25" height="1.1"/><rect x="517.15" y="492.82" width="1.25" height="1.1"/><rect x="521.25" y="492.82" width="1.25" height="1.1"/><rect x="525.35" y="492.82" width="1.25" height="1.1"/><rect x="529.44" y="492.82" width="1.25" height="1.1"/><rect x="533.54" y="492.82" width="1.25" height="1.1"/><rect x="537.64" y="492.82" width="1.25" height="1.1"/><rect x="541.73" y="492.82" width="1.25" height="1.1"/><rect x="498.7" y="496.84" width="1.25" height="1.1"/><rect x="502.8" y="496.84" width="1.25" height="1.1"/><rect x="506.89" y="496.84" width="1.25" height="1.1"/><rect x="510.99" y="496.84" width="1.25" height="1.1"/><rect x="515.09" y="496.84" width="1.25" height="1.1"/><rect x="519.18" y="496.84" width="1.25" height="1.1"/><rect x="523.28" y="496.84" width="1.25" height="1.1"/><rect x="527.38" y="496.84" width="1.25" height="1.1"/><rect x="531.47" y="496.84" width="1.25" height="1.1"/><rect x="535.57" y="496.84" width="1.25" height="1.1"/><rect x="539.67" y="496.84" width="1.25" height="1.1"/><rect x="543.76" y="496.84" width="1.25" height="1.1"/><rect x="500.77" y="500.87" width="1.25" height="1.1"/><rect x="504.87" y="500.87" width="1.25" height="1.1"/><rect x="508.96" y="500.87" width="1.25" height="1.1"/><rect x="513.06" y="500.87" width="1.25" height="1.1"/><rect x="517.15" y="500.87" width="1.25" height="1.1"/><rect x="521.25" y="500.87" width="1.25" height="1.1"/><rect x="525.35" y="500.87" width="1.25" height="1.1"/><rect x="529.44" y="500.87" width="1.25" height="1.1"/><rect x="533.54" y="500.87" width="1.25" height="1.1"/><rect x="537.64" y="500.87" width="1.25" height="1.1"/><rect x="541.73" y="500.87" width="1.25" height="1.1"/><rect x="498.7" y="504.9" width="1.25" height="1.1"/><rect x="502.8" y="504.9" width="1.25" height="1.1"/><rect x="506.89" y="504.9" width="1.25" height="1.1"/><rect x="510.99" y="504.9" width="1.25" height="1.1"/><rect x="515.09" y="504.9" width="1.25" height="1.1"/><rect x="519.18" y="504.9" width="1.25" height="1.1"/><rect x="523.28" y="504.9" width="1.25" height="1.1"/><rect x="527.38" y="504.9" width="1.25" height="1.1"/><rect x="531.47" y="504.9" width="1.25" height="1.1"/><rect x="535.57" y="504.9" width="1.25" height="1.1"/><rect x="539.67" y="504.9" width="1.25" height="1.1"/><rect x="543.76" y="504.9" width="1.25" height="1.1"/><rect x="500.77" y="508.93" width="1.25" height="1.1"/><rect x="504.87" y="508.93" width="1.25" height="1.1"/><rect x="508.96" y="508.93" width="1.25" height="1.1"/><rect x="513.06" y="508.93" width="1.25" height="1.1"/><rect x="517.15" y="508.93" width="1.25" height="1.1"/><rect x="521.25" y="508.93" width="1.25" height="1.1"/><rect x="525.35" y="508.93" width="1.25" height="1.1"/><rect x="529.44" y="508.93" width="1.25" height="1.1"/><rect x="533.54" y="508.93" width="1.25" height="1.1"/><rect x="537.64" y="508.93" width="1.25" height="1.1"/><rect x="541.73" y="508.93" width="1.25" height="1.1"/><rect x="498.7" y="512.95" width="1.25" height="1.1"/><rect x="502.8" y="512.95" width="1.25" height="1.1"/><rect x="506.89" y="512.95" width="1.25" height="1.1"/><rect x="510.99" y="512.95" width="1.25" height="1.1"/><rect x="515.09" y="512.95" width="1.25" height="1.1"/><rect x="519.18" y="512.95" width="1.25" height="1.1"/><rect x="523.28" y="512.95" width="1.25" height="1.1"/><rect x="527.38" y="512.95" width="1.25" height="1.1"/><rect x="531.47" y="512.95" width="1.25" height="1.1"/><rect x="535.57" y="512.95" width="1.25" height="1.1"/><rect x="539.67" y="512.95" width="1.25" height="1.1"/><rect x="543.76" y="512.95" width="1.25" height="1.1"/><rect x="500.77" y="516.98" width="1.25" height="1.1"/><rect x="504.87" y="516.98" width="1.25" height="1.1"/><rect x="508.96" y="516.98" width="1.25" height="1.1"/><rect x="513.06" y="516.98" width="1.25" height="1.1"/><rect x="517.15" y="516.98" width="1.25" height="1.1"/><rect x="521.25" y="516.98" width="1.25" height="1.1"/><rect x="525.35" y="516.98" width="1.25" height="1.1"/><rect x="529.44" y="516.98" width="1.25" height="1.1"/><rect x="533.54" y="516.98" width="1.25" height="1.1"/><rect x="537.64" y="516.98" width="1.25" height="1.1"/><rect x="541.73" y="516.98" width="1.25" height="1.1"/><rect x="498.7" y="521.01" width="1.25" height="1.1"/><rect x="502.8" y="521.01" width="1.25" height="1.1"/><rect x="506.89" y="521.01" width="1.25" height="1.1"/><rect x="510.99" y="521.01" width="1.25" height="1.1"/><rect x="515.09" y="521.01" width="1.25" height="1.1"/><rect x="519.18" y="521.01" width="1.25" height="1.1"/><rect x="523.28" y="521.01" width="1.25" height="1.1"/><rect x="527.38" y="521.01" width="1.25" height="1.1"/><rect x="531.47" y="521.01" width="1.25" height="1.1"/><rect x="535.57" y="521.01" width="1.25" height="1.1"/><rect x="539.67" y="521.01" width="1.25" height="1.1"/><rect x="543.76" y="521.01" width="1.25" height="1.1"/><rect x="500.77" y="525.04" width="1.25" height="1.1"/><rect x="504.87" y="525.04" width="1.25" height="1.1"/><rect x="508.96" y="525.04" width="1.25" height="1.1"/><rect x="513.06" y="525.04" width="1.25" height="1.1"/><rect x="517.15" y="525.04" width="1.25" height="1.1"/><rect x="521.25" y="525.04" width="1.25" height="1.1"/><rect x="525.35" y="525.04" width="1.25" height="1.1"/><rect x="529.44" y="525.04" width="1.25" height="1.1"/><rect x="533.54" y="525.04" width="1.25" height="1.1"/><rect x="537.64" y="525.04" width="1.25" height="1.1"/><rect x="541.73" y="525.04" width="1.25" height="1.1"/></g><rect x="547.1" y="481.7" width="50.7" height="44.7" fill="#fff"/><path d="M547.1 487.45H597.8M547.1 493.46H597.8M547.1 499.46H597.8M547.1 505.46H597.8M547.1 511.46H597.8M547.1 517.46H597.8M547.1 523.46H597.8" stroke="#141414" stroke-width="0.99" fill="none"/><rect x="597.8" y="475.4" width="51.2" height="51" fill="#fff"/><path d="M603.25 475.4V526.4M609.34 475.4V526.4M615.44 475.4V526.4M621.53 475.4V526.4M627.63 475.4V526.4M633.72 475.4V526.4M639.81 475.4V526.4M645.91 475.4V526.4" stroke="#141414" stroke-width="1.16" fill="none"/><rect x="649" y="467.1" width="50.9" height="59.3" fill="#fff"/><g clip-path="url(#c4_4)"><path d="M585.91 526.4L646.22 467.1M591.05 526.4L651.37 467.1M596.2 526.4L656.52 467.1M601.34 526.4L661.66 467.1M606.49 526.4L666.81 467.1M611.64 526.4L671.95 467.1M616.78 526.4L677.1 467.1M621.93 526.4L682.24 467.1M627.07 526.4L687.39 467.1M632.22 526.4L692.54 467.1M637.37 526.4L697.68 467.1M642.51 526.4L702.83 467.1M647.66 526.4L707.97 467.1M652.8 526.4L713.12 467.1M657.95 526.4L718.27 467.1M663.1 526.4L723.41 467.1M668.24 526.4L728.56 467.1M673.39 526.4L733.7 467.1M678.53 526.4L738.85 467.1M683.68 526.4L744 467.1M688.83 526.4L749.14 467.1M693.97 526.4L754.29 467.1M699.12 526.4L759.43 467.1" stroke="#141414" stroke-width="1.25" fill="none"/></g><path d="M445.2 526.4V448.4H496.5V526.4" fill="none" stroke="#141414" stroke-width="1.9" stroke-linejoin="miter"/><path d="M496.5 526.4V480.5H547.1V526.4" fill="none" stroke="#141414" stroke-width="1.9" stroke-linejoin="miter"/><path d="M547.1 526.4V481.7H597.8V526.4" fill="none" stroke="#141414" stroke-width="1.9" stroke-linejoin="miter"/><path d="M597.8 526.4V475.4H649V526.4" fill="none" stroke="#141414" stroke-width="1.9" stroke-linejoin="miter"/><path d="M649 526.4V467.1H699.9V526.4" fill="none" stroke="#141414" stroke-width="1.9" stroke-linejoin="miter"/><path d="M470.85 448.4V420.8M458.24 420.8H483.46" fill="none" stroke="#141414" stroke-width="1.9"/><path d="M521.8 480.5V472.9M509.19 472.9H534.41" fill="none" stroke="#141414" stroke-width="1.9"/><path d="M572.45 481.7V469.1M559.84 469.1H585.06" fill="none" stroke="#141414" stroke-width="1.9"/><path d="M623.4 475.4V467.9M610.79 467.9H636.01" fill="none" stroke="#141414" stroke-width="1.9"/><path d="M674.45 467.1V461.6M661.84 461.6H687.06" fill="none" stroke="#141414" stroke-width="1.9"/><text x="470.2" y="414" text-anchor="middle" font-size="12.1" fill="#1c1c1c">a</text><text x="519.6" y="468.4" text-anchor="middle" font-size="12.1" fill="#1c1c1c">bc</text><text x="571.6" y="465.4" text-anchor="middle" font-size="12.1" fill="#1c1c1c">c</text><text x="621.5" y="464.4" text-anchor="middle" font-size="12.1" fill="#1c1c1c">bc</text><text x="673.6" y="458.4" text-anchor="middle" font-size="12.1" fill="#1c1c1c">b</text><path d="M420.1 324.55V526.4H726.5" fill="none" stroke="#141414" stroke-width="1.9" stroke-linecap="butt" stroke-linejoin="miter"/><path d="M420.1 325.5H426" stroke="#141414" stroke-width="1.9"/><text x="415.9" y="330.9" text-anchor="end" font-weight="700" font-size="11.51" fill="#111">8</text><path d="M420.1 375.6H426" stroke="#141414" stroke-width="1.9"/><text x="415.9" y="381" text-anchor="end" font-weight="700" font-size="11.51" fill="#111">6</text><path d="M420.1 426.1H426" stroke="#141414" stroke-width="1.9"/><text x="415.9" y="431.5" text-anchor="end" font-weight="700" font-size="11.51" fill="#111">4</text><path d="M420.1 476.5H426" stroke="#141414" stroke-width="1.9"/><text x="415.9" y="481.9" text-anchor="end" font-weight="700" font-size="11.51" fill="#111">2</text><text x="415.9" y="531.8" text-anchor="end" font-weight="700" font-size="11.51" fill="#111">0</text></g>
<g><text x="379.2" y="580.3" font-family="Liberation Sans, sans-serif" font-weight="700" font-size="22.8" fill="#111">F</text><text x="423" y="579.5" font-size="14.3" fill="#1c1c1c">Spleen</text><text transform="translate(398.5 710.6) rotate(-90)" text-anchor="middle" font-weight="700" font-size="14" fill="#111">Index</text><rect x="447.9" y="711.9" width="52.6" height="98.6" fill="#fff"/><rect x="500.5" y="741.4" width="52.5" height="69.1" fill="#fff"/><g fill="#262626"><rect x="504.92" y="745.82" width="1.25" height="1.1"/><rect x="509.14" y="745.82" width="1.25" height="1.1"/><rect x="513.36" y="745.82" width="1.25" height="1.1"/><rect x="517.59" y="745.82" width="1.25" height="1.1"/><rect x="521.81" y="745.82" width="1.25" height="1.1"/><rect x="526.03" y="745.82" width="1.25" height="1.1"/><rect x="530.25" y="745.82" width="1.25" height="1.1"/><rect x="534.48" y="745.82" width="1.25" height="1.1"/><rect x="538.7" y="745.82" width="1.25" height="1.1"/><rect x="542.92" y="745.82" width="1.25" height="1.1"/><rect x="547.14" y="745.82" width="1.25" height="1.1"/><rect x="502.79" y="749.97" width="1.25" height="1.1"/><rect x="507.01" y="749.97" width="1.25" height="1.1"/><rect x="511.23" y="749.97" width="1.25" height="1.1"/><rect x="515.45" y="749.97" width="1.25" height="1.1"/><rect x="519.68" y="749.97" width="1.25" height="1.1"/><rect x="523.9" y="749.97" width="1.25" height="1.1"/><rect x="528.12" y="749.97" width="1.25" height="1.1"/><rect x="532.34" y="749.97" width="1.25" height="1.1"/><rect x="536.57" y="749.97" width="1.25" height="1.1"/><rect x="540.79" y="749.97" width="1.25" height="1.1"/><rect x="545.01" y="749.97" width="1.25" height="1.1"/><rect x="549.23" y="749.97" width="1.25" height="1.1"/><rect x="504.92" y="754.13" width="1.25" height="1.1"/><rect x="509.14" y="754.13" width="1.25" height="1.1"/><rect x="513.36" y="754.13" width="1.25" height="1.1"/><rect x="517.59" y="754.13" width="1.25" height="1.1"/><rect x="521.81" y="754.13" width="1.25" height="1.1"/><rect x="526.03" y="754.13" width="1.25" height="1.1"/><rect x="530.25" y="754.13" width="1.25" height="1.1"/><rect x="534.48" y="754.13" width="1.25" height="1.1"/><rect x="538.7" y="754.13" width="1.25" height="1.1"/><rect x="542.92" y="754.13" width="1.25" height="1.1"/><rect x="547.14" y="754.13" width="1.25" height="1.1"/><rect x="502.79" y="758.29" width="1.25" height="1.1"/><rect x="507.01" y="758.29" width="1.25" height="1.1"/><rect x="511.23" y="758.29" width="1.25" height="1.1"/><rect x="515.45" y="758.29" width="1.25" height="1.1"/><rect x="519.68" y="758.29" width="1.25" height="1.1"/><rect x="523.9" y="758.29" width="1.25" height="1.1"/><rect x="528.12" y="758.29" width="1.25" height="1.1"/><rect x="532.34" y="758.29" width="1.25" height="1.1"/><rect x="536.57" y="758.29" width="1.25" height="1.1"/><rect x="540.79" y="758.29" width="1.25" height="1.1"/><rect x="545.01" y="758.29" width="1.25" height="1.1"/><rect x="549.23" y="758.29" width="1.25" height="1.1"/><rect x="504.92" y="762.45" width="1.25" height="1.1"/><rect x="509.14" y="762.45" width="1.25" height="1.1"/><rect x="513.36" y="762.45" width="1.25" height="1.1"/><rect x="517.59" y="762.45" width="1.25" height="1.1"/><rect x="521.81" y="762.45" width="1.25" height="1.1"/><rect x="526.03" y="762.45" width="1.25" height="1.1"/><rect x="530.25" y="762.45" width="1.25" height="1.1"/><rect x="534.48" y="762.45" width="1.25" height="1.1"/><rect x="538.7" y="762.45" width="1.25" height="1.1"/><rect x="542.92" y="762.45" width="1.25" height="1.1"/><rect x="547.14" y="762.45" width="1.25" height="1.1"/><rect x="502.79" y="766.6" width="1.25" height="1.1"/><rect x="507.01" y="766.6" width="1.25" height="1.1"/><rect x="511.23" y="766.6" width="1.25" height="1.1"/><rect x="515.45" y="766.6" width="1.25" height="1.1"/><rect x="519.68" y="766.6" width="1.25" height="1.1"/><rect x="523.9" y="766.6" width="1.25" height="1.1"/><rect x="528.12" y="766.6" width="1.25" height="1.1"/><rect x="532.34" y="766.6" width="1.25" height="1.1"/><rect x="536.57" y="766.6" width="1.25" height="1.1"/><rect x="540.79" y="766.6" width="1.25" height="1.1"/><rect x="545.01" y="766.6" width="1.25" height="1.1"/><rect x="549.23" y="766.6" width="1.25" height="1.1"/><rect x="504.92" y="770.76" width="1.25" height="1.1"/><rect x="509.14" y="770.76" width="1.25" height="1.1"/><rect x="513.36" y="770.76" width="1.25" height="1.1"/><rect x="517.59" y="770.76" width="1.25" height="1.1"/><rect x="521.81" y="770.76" width="1.25" height="1.1"/><rect x="526.03" y="770.76" width="1.25" height="1.1"/><rect x="530.25" y="770.76" width="1.25" height="1.1"/><rect x="534.48" y="770.76" width="1.25" height="1.1"/><rect x="538.7" y="770.76" width="1.25" height="1.1"/><rect x="542.92" y="770.76" width="1.25" height="1.1"/><rect x="547.14" y="770.76" width="1.25" height="1.1"/><rect x="502.79" y="774.92" width="1.25" height="1.1"/><rect x="507.01" y="774.92" width="1.25" height="1.1"/><rect x="511.23" y="774.92" width="1.25" height="1.1"/><rect x="515.45" y="774.92" width="1.25" height="1.1"/><rect x="519.68" y="774.92" width="1.25" height="1.1"/><rect x="523.9" y="774.92" width="1.25" height="1.1"/><rect x="528.12" y="774.92" width="1.25" height="1.1"/><rect x="532.34" y="774.92" width="1.25" height="1.1"/><rect x="536.57" y="774.92" width="1.25" height="1.1"/><rect x="540.79" y="774.92" width="1.25" height="1.1"/><rect x="545.01" y="774.92" width="1.25" height="1.1"/><rect x="549.23" y="774.92" width="1.25" height="1.1"/><rect x="504.92" y="779.08" width="1.25" height="1.1"/><rect x="509.14" y="779.08" width="1.25" height="1.1"/><rect x="513.36" y="779.08" width="1.25" height="1.1"/><rect x="517.59" y="779.08" width="1.25" height="1.1"/><rect x="521.81" y="779.08" width="1.25" height="1.1"/><rect x="526.03" y="779.08" width="1.25" height="1.1"/><rect x="530.25" y="779.08" width="1.25" height="1.1"/><rect x="534.48" y="779.08" width="1.25" height="1.1"/><rect x="538.7" y="779.08" width="1.25" height="1.1"/><rect x="542.92" y="779.08" width="1.25" height="1.1"/><rect x="547.14" y="779.08" width="1.25" height="1.1"/><rect x="502.79" y="783.23" width="1.25" height="1.1"/><rect x="507.01" y="783.23" width="1.25" height="1.1"/><rect x="511.23" y="783.23" width="1.25" height="1.1"/><rect x="515.45" y="783.23" width="1.25" height="1.1"/><rect x="519.68" y="783.23" width="1.25" height="1.1"/><rect x="523.9" y="783.23" width="1.25" height="1.1"/><rect x="528.12" y="783.23" width="1.25" height="1.1"/><rect x="532.34" y="783.23" width="1.25" height="1.1"/><rect x="536.57" y="783.23" width="1.25" height="1.1"/><rect x="540.79" y="783.23" width="1.25" height="1.1"/><rect x="545.01" y="783.23" width="1.25" height="1.1"/><rect x="549.23" y="783.23" width="1.25" height="1.1"/><rect x="504.92" y="787.39" width="1.25" height="1.1"/><rect x="509.14" y="787.39" width="1.25" height="1.1"/><rect x="513.36" y="787.39" width="1.25" height="1.1"/><rect x="517.59" y="787.39" width="1.25" height="1.1"/><rect x="521.81" y="787.39" width="1.25" height="1.1"/><rect x="526.03" y="787.39" width="1.25" height="1.1"/><rect x="530.25" y="787.39" width="1.25" height="1.1"/><rect x="534.48" y="787.39" width="1.25" height="1.1"/><rect x="538.7" y="787.39" width="1.25" height="1.1"/><rect x="542.92" y="787.39" width="1.25" height="1.1"/><rect x="547.14" y="787.39" width="1.25" height="1.1"/><rect x="502.79" y="791.55" width="1.25" height="1.1"/><rect x="507.01" y="791.55" width="1.25" height="1.1"/><rect x="511.23" y="791.55" width="1.25" height="1.1"/><rect x="515.45" y="791.55" width="1.25" height="1.1"/><rect x="519.68" y="791.55" width="1.25" height="1.1"/><rect x="523.9" y="791.55" width="1.25" height="1.1"/><rect x="528.12" y="791.55" width="1.25" height="1.1"/><rect x="532.34" y="791.55" width="1.25" height="1.1"/><rect x="536.57" y="791.55" width="1.25" height="1.1"/><rect x="540.79" y="791.55" width="1.25" height="1.1"/><rect x="545.01" y="791.55" width="1.25" height="1.1"/><rect x="549.23" y="791.55" width="1.25" height="1.1"/><rect x="504.92" y="795.71" width="1.25" height="1.1"/><rect x="509.14" y="795.71" width="1.25" height="1.1"/><rect x="513.36" y="795.71" width="1.25" height="1.1"/><rect x="517.59" y="795.71" width="1.25" height="1.1"/><rect x="521.81" y="795.71" width="1.25" height="1.1"/><rect x="526.03" y="795.71" width="1.25" height="1.1"/><rect x="530.25" y="795.71" width="1.25" height="1.1"/><rect x="534.48" y="795.71" width="1.25" height="1.1"/><rect x="538.7" y="795.71" width="1.25" height="1.1"/><rect x="542.92" y="795.71" width="1.25" height="1.1"/><rect x="547.14" y="795.71" width="1.25" height="1.1"/><rect x="502.79" y="799.86" width="1.25" height="1.1"/><rect x="507.01" y="799.86" width="1.25" height="1.1"/><rect x="511.23" y="799.86" width="1.25" height="1.1"/><rect x="515.45" y="799.86" width="1.25" height="1.1"/><rect x="519.68" y="799.86" width="1.25" height="1.1"/><rect x="523.9" y="799.86" width="1.25" height="1.1"/><rect x="528.12" y="799.86" width="1.25" height="1.1"/><rect x="532.34" y="799.86" width="1.25" height="1.1"/><rect x="536.57" y="799.86" width="1.25" height="1.1"/><rect x="540.79" y="799.86" width="1.25" height="1.1"/><rect x="545.01" y="799.86" width="1.25" height="1.1"/><rect x="549.23" y="799.86" width="1.25" height="1.1"/><rect x="504.92" y="804.02" width="1.25" height="1.1"/><rect x="509.14" y="804.02" width="1.25" height="1.1"/><rect x="513.36" y="804.02" width="1.25" height="1.1"/><rect x="517.59" y="804.02" width="1.25" height="1.1"/><rect x="521.81" y="804.02" width="1.25" height="1.1"/><rect x="526.03" y="804.02" width="1.25" height="1.1"/><rect x="530.25" y="804.02" width="1.25" height="1.1"/><rect x="534.48" y="804.02" width="1.25" height="1.1"/><rect x="538.7" y="804.02" width="1.25" height="1.1"/><rect x="542.92" y="804.02" width="1.25" height="1.1"/><rect x="547.14" y="804.02" width="1.25" height="1.1"/><rect x="502.79" y="808.18" width="1.25" height="1.1"/><rect x="507.01" y="808.18" width="1.25" height="1.1"/><rect x="511.23" y="808.18" width="1.25" height="1.1"/><rect x="515.45" y="808.18" width="1.25" height="1.1"/><rect x="519.68" y="808.18" width="1.25" height="1.1"/><rect x="523.9" y="808.18" width="1.25" height="1.1"/><rect x="528.12" y="808.18" width="1.25" height="1.1"/><rect x="532.34" y="808.18" width="1.25" height="1.1"/><rect x="536.57" y="808.18" width="1.25" height="1.1"/><rect x="540.79" y="808.18" width="1.25" height="1.1"/><rect x="545.01" y="808.18" width="1.25" height="1.1"/><rect x="549.23" y="808.18" width="1.25" height="1.1"/></g><rect x="553" y="755.5" width="52.8" height="55" fill="#fff"/><path d="M553 761.44H605.8M553 767.63H605.8M553 773.83H605.8M553 780.02H605.8M553 786.22H605.8M553 792.42H605.8M553 798.61H605.8M553 804.81H605.8" stroke="#141414" stroke-width="1.02" fill="none"/><rect x="605.8" y="717.4" width="52.3" height="93.1" fill="#fff"/><path d="M611.55 717.4V810.5M617.96 717.4V810.5M624.36 717.4V810.5M630.77 717.4V810.5M637.18 717.4V810.5M643.58 717.4V810.5M649.99 717.4V810.5M656.4 717.4V810.5" stroke="#141414" stroke-width="1.2" fill="none"/><rect x="658.1" y="742" width="52.6" height="68.5" fill="#fff"/><g clip-path="url(#c5_4)"><path d="M582.08 810.5L651.65 742M587.28 810.5L656.85 742M592.48 810.5L662.05 742M597.68 810.5L667.25 742M602.88 810.5L672.45 742M608.08 810.5L677.65 742M613.28 810.5L682.85 742M618.48 810.5L688.05 742M623.68 810.5L693.25 742M628.88 810.5L698.45 742M634.08 810.5L703.65 742M639.28 810.5L708.85 742M644.48 810.5L714.05 742M649.68 810.5L719.25 742M654.88 810.5L724.45 742M660.08 810.5L729.65 742M665.28 810.5L734.85 742M670.48 810.5L740.05 742M675.68 810.5L745.25 742M680.88 810.5L750.45 742M686.08 810.5L755.65 742M691.28 810.5L760.85 742M696.48 810.5L766.05 742M701.68 810.5L771.25 742M706.88 810.5L776.45 742" stroke="#141414" stroke-width="1.26" fill="none"/></g><path d="M447.9 810.5V711.9H500.5V810.5" fill="none" stroke="#141414" stroke-width="1.9" stroke-linejoin="miter"/><path d="M500.5 810.5V741.4H553V810.5" fill="none" stroke="#141414" stroke-width="1.9" stroke-linejoin="miter"/><path d="M553 810.5V755.5H605.8V810.5" fill="none" stroke="#141414" stroke-width="1.9" stroke-linejoin="miter"/><path d="M605.8 810.5V717.4H658.1V810.5" fill="none" stroke="#141414" stroke-width="1.9" stroke-linejoin="miter"/><path d="M658.1 810.5V742H710.7V810.5" fill="none" stroke="#141414" stroke-width="1.9" stroke-linejoin="miter"/><path d="M474.2 711.9V699.6M461.2 699.6H487.2" fill="none" stroke="#141414" stroke-width="1.9"/><path d="M526.75 741.4V713.5M513.75 713.5H539.75" fill="none" stroke="#141414" stroke-width="1.9"/><path d="M579.4 755.5V737.1M566.4 737.1H592.4" fill="none" stroke="#141414" stroke-width="1.9"/><path d="M631.95 717.4V678.2M618.95 678.2H644.95" fill="none" stroke="#141414" stroke-width="1.9"/><path d="M684.4 742V719.6M671.4 719.6H697.4" fill="none" stroke="#141414" stroke-width="1.9"/><text x="474" y="692.8" text-anchor="middle" font-size="12.1" fill="#1c1c1c">a</text><text x="524.6" y="707.3" text-anchor="middle" font-size="12.1" fill="#1c1c1c">bc</text><text x="579" y="730.4" text-anchor="middle" font-size="12.1" fill="#1c1c1c">c</text><text x="630.2" y="672.2" text-anchor="middle" font-size="12.1" fill="#1c1c1c">ab</text><text x="683.3" y="716.1" text-anchor="middle" font-size="12.1" fill="#1c1c1c">c</text><path d="M421.9 601.35V810.5H739" fill="none" stroke="#141414" stroke-width="1.9" stroke-linecap="butt" stroke-linejoin="miter"/><path d="M421.9 602.3H427.8" stroke="#141414" stroke-width="1.9"/><text x="417.4" y="607.7" text-anchor="end" font-weight="700" font-size="11.87" fill="#111">4</text><path d="M421.9 654.4H427.8" stroke="#141414" stroke-width="1.9"/><text x="417.4" y="659.8" text-anchor="end" font-weight="700" font-size="11.87" fill="#111">3</text><path d="M421.9 706.3H427.8" stroke="#141414" stroke-width="1.9"/><text x="417.4" y="711.7" text-anchor="end" font-weight="700" font-size="11.87" fill="#111">2</text><path d="M421.9 758.4H427.8" stroke="#141414" stroke-width="1.9"/><text x="417.4" y="763.8" text-anchor="end" font-weight="700" font-size="11.87" fill="#111">1</text><text x="417.4" y="815.9" text-anchor="end" font-weight="700" font-size="11.87" fill="#111">0</text></g>
<g><rect x="150.45" y="849.05" width="22.9" height="9.3" fill="#fff" stroke="#141414" stroke-width="2.1"/><text x="186.4" y="858.8" font-size="14.4" fill="#1c1c1c">Saline</text><rect x="238.95" y="849.05" width="23.1" height="9.3" fill="#fff" stroke="#141414" stroke-width="2.1"/><g fill="#333"><rect x="243.6" y="853.1" width="1.5" height="1.2"/><rect x="247.8" y="853.1" width="1.5" height="1.2"/><rect x="252" y="853.1" width="1.5" height="1.2"/><rect x="256.2" y="853.1" width="1.5" height="1.2"/></g><text x="275.3" y="858.8" font-size="14.4" fill="#1c1c1c">Cy</text><rect x="321.45" y="849.55" width="22.6" height="8.8" fill="#fff" stroke="#141414" stroke-width="2.1"/><path d="M321.5 852.5H344M321.5 855.5H344" stroke="#444" stroke-width="0.8"/><text x="357.7" y="859.2" font-size="14.5" fill="#1c1c1c">Cy+TEG20</text><rect x="438.25" y="850.75" width="22.2" height="8.3" fill="#fff" stroke="#141414" stroke-width="2.3"/><path d="M443.8 850.5V859.5M450 850.5V859.5M456.2 850.5V859.5" stroke="#141414" stroke-width="1.4"/><text x="473.6" y="860" font-size="14.5" fill="#1c1c1c">Cy+TEG40</text><clipPath id="lg5"><rect x="550.3" y="850.6" width="23" height="8.6"/></clipPath><rect x="550.45" y="850.75" width="22.8" height="8.3" fill="#fff" stroke="#141414" stroke-width="2.3"/><path clip-path="url(#lg5)" d="M541.6 861L553.6 849M546.2 861L558.2 849M550.8 861L562.8 849M555.4 861L567.4 849M560 861L572 849M564.6 861L576.6 849M569.2 861L581.2 849M573.8 861L585.8 849M578.4 861L590.4 849" stroke="#141414" stroke-width="1.55"/><text x="586.3" y="860" font-size="14.5" fill="#1c1c1c">Cy+TEG80</text><text x="79.8" y="902.9" font-size="20.7" fill="#1c1c1c">Experiment 1</text><text x="596.9" y="902.9" font-size="20.7" fill="#1c1c1c">Experiment 2</text></g>
</svg>
</body></html>
